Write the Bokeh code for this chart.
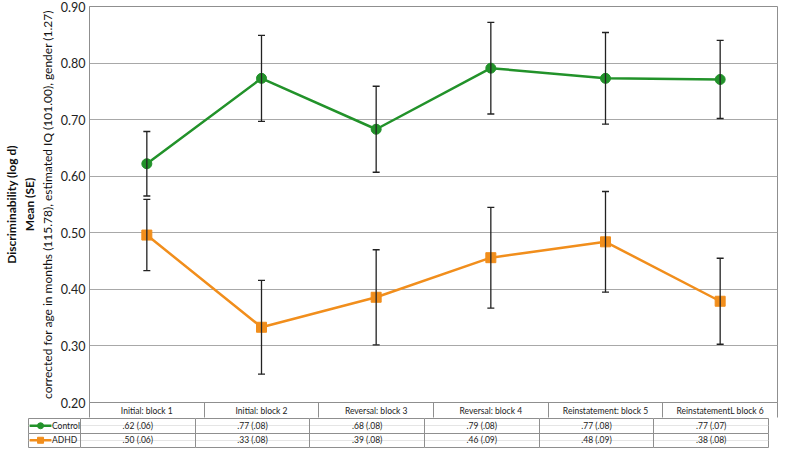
from bokeh.plotting import figure
from bokeh.models import (ColumnDataSource, Range1d, FixedTicker, PrintfTickFormatter,
                          LinearAxis, Whisker, TeeHead, Grid)
from bokeh.layouts import column
from bokeh.embed import file_html
from bokeh.resources import INLINE
from bokeh.core.properties import value

# ---------------- data ----------------
blocks = ["Initial: block 1", "Initial: block 2", "Reversal: block 3",
          "Reversal: block 4", "Reinstatement: block 5", "ReinstatementL block 6"]
control_mean = [0.622, 0.773, 0.683, 0.791, 0.773, 0.771]
control_se = [0.057, 0.076, 0.076, 0.081, 0.081, 0.069]
adhd_mean = [0.496, 0.333, 0.386, 0.456, 0.484, 0.379]
adhd_se = [0.063, 0.083, 0.084, 0.089, 0.089, 0.076]
series_names = ["Control", "ADHD"]
y_ticks = [0.20, 0.30, 0.40, 0.50, 0.60, 0.70, 0.80, 0.90]

# ---------------- style / layout ----------------
FONT = "Lato"
GREEN = "#22922A"
ORANGE = "#F18E1C"
GRID = "#A8A8A8"
BORDER = "#8F8F8F"
TXT = "#222222"
LEFT = 80            # chart left border (y axis area)
RIGHT = 1
FRAME_W = 688
CHART_FRAME_H = 396
HEADER_H = 15
TOP = 6
LEGEND_W = 52        # width of the legend column of the table
TABLE_FRAME_H = 29

unit_px = FRAME_W / len(blocks)
x_left_table = -LEGEND_W / unit_px

xs = [i + 0.5 for i in range(len(blocks))]

p = figure(frame_width=FRAME_W, frame_height=CHART_FRAME_H, output_backend="svg",
           toolbar_location=None,
           x_range=Range1d(0, len(blocks)), y_range=Range1d(0.20, 0.90),
           min_border_left=LEFT, min_border_right=RIGHT, min_border_top=TOP,
           min_border_bottom=HEADER_H)
p.frame_align = False
p.outline_line_color = BORDER
p.background_fill_color = "white"
p.border_fill_color = "white"

# y axis
p.yaxis.ticker = FixedTicker(ticks=y_ticks)
p.yaxis.formatter = PrintfTickFormatter(format="%.2f")
p.yaxis.major_label_text_font = FONT
p.yaxis.major_label_text_font_size = "12.5px"
p.yaxis.major_label_text_color = TXT
p.yaxis.axis_line_color = BORDER
p.yaxis.major_tick_out = 0
p.yaxis.major_tick_in = 0
p.yaxis.minor_tick_line_color = None
p.yaxis.major_label_standoff = 4
p.yaxis.axis_label = "corrected for age in months (115.78), estimated IQ (101.00), gender (1.27)"
p.yaxis.axis_label_text_font = FONT
p.yaxis.axis_label_text_font_size = "12px"
p.yaxis.axis_label_text_font_style = "normal"
p.yaxis.axis_label_text_color = "#111111"
p.yaxis.axis_label_standoff = 3

extra = LinearAxis(ticker=FixedTicker(ticks=[]), axis_line_color=None,
                   major_tick_line_color=None, minor_tick_line_color=None,
                   major_tick_out=0, major_tick_in=0, major_label_standoff=0,
                   major_label_text_font_size="0px",
                   axis_label="Discriminability (log d)\nMean (SE)",
                   axis_label_text_font=FONT, axis_label_text_font_size="12px",
                   axis_label_text_font_style="bold", axis_label_text_color="#111111",
                   axis_label_standoff=0)
p.add_layout(extra, "left")

# x axis = header row of the table
p.xaxis.ticker = FixedTicker(ticks=xs, minor_ticks=list(range(len(blocks) + 1)))
p.xaxis.major_label_overrides = {x: b for x, b in zip(xs, blocks)}
p.xaxis.major_tick_out = 0
p.xaxis.major_tick_in = 0
p.xaxis.minor_tick_out = HEADER_H
p.xaxis.minor_tick_in = 0
p.xaxis.minor_tick_line_color = BORDER
p.xaxis.axis_line_color = BORDER
p.xaxis.major_label_text_font = FONT
p.xaxis.major_label_text_font_size = "8.5px"
p.xaxis.major_label_text_color = TXT
p.xaxis.major_label_standoff = -12

p.xgrid.grid_line_color = None
p.ygrid.ticker = FixedTicker(ticks=y_ticks)
p.ygrid.grid_line_color = GRID
p.ygrid.grid_line_width = 1

series = [
    (series_names[0], control_mean, control_se, GREEN, "circle"),
    (series_names[1], adhd_mean, adhd_se, ORANGE, "square"),
]

for name, mean, se, color, marker in series:
    src = ColumnDataSource(dict(
        x=xs, y=mean,
        lower=[m - s for m, s in zip(mean, se)],
        upper=[m + s for m, s in zip(mean, se)],
    ))
    p.line("x", "y", source=src, line_color=color, line_width=2.5)
    p.scatter("x", "y", source=src, marker=marker, size=10, fill_color=color,
              line_color=color)
    w = Whisker(base="x", upper="upper", lower="lower", source=src,
                line_color=TXT, line_width=1.3, level="overlay",
                upper_head=TeeHead(size=7, line_color=TXT, line_width=1.3),
                lower_head=TeeHead(size=7, line_color=TXT, line_width=1.3))
    p.add_layout(w)

# ---------------- table ----------------
t = figure(frame_width=FRAME_W + LEGEND_W, frame_height=TABLE_FRAME_H,
           output_backend="svg", toolbar_location=None,
           x_range=Range1d(x_left_table, len(blocks)), y_range=Range1d(0, len(series)),
           min_border_left=LEFT - LEGEND_W, min_border_right=RIGHT, min_border_top=0,
           min_border_bottom=1, x_axis_location=None, y_axis_location=None)
t.frame_align = False
t.outline_line_color = BORDER
t.background_fill_color = "white"
t.border_fill_color = "white"
t.add_layout(Grid(dimension=0, ticker=FixedTicker(ticks=list(range(len(blocks) + 1))),
                  grid_line_color=BORDER))
t.add_layout(Grid(dimension=1, ticker=FixedTicker(ticks=list(range(1, len(series)))),
                  grid_line_color=BORDER))


def fmt(v):
    s = f"{v:.2f}"
    return s[1:] if s.startswith("0") else s


for r, (name, mean, se, color, marker) in enumerate(series):
    yc = len(series) - r - 0.5
    cells = ColumnDataSource(dict(
        x=xs, y=[yc] * len(xs),
        text=[f"{fmt(m)} ({fmt(s)})" for m, s in zip(mean, se)],
    ))
    t.text("x", "y", text="text", source=cells, text_align="center",
           text_baseline="middle", text_font=value(FONT), text_font_size="8.5px",
           text_color=TXT)
    # legend key
    k0 = x_left_table + 0.01
    k1 = x_left_table + 0.20
    t.segment(x0=[k0], y0=[yc], x1=[k1], y1=[yc], line_color=color, line_width=2.5)
    t.scatter(x=[(k0 + k1) / 2], y=[yc], marker=marker, size=6, fill_color=color,
              line_color=color)
    t.text(x=[k1 + 0.005], y=[yc], text=[name], text_align="left",
           text_baseline="middle", text_font=value(FONT), text_font_size="8.5px",
           text_color=TXT)

layout = column(p, t, spacing=0)
open("out.html", "w").write(file_html(layout, INLINE))
